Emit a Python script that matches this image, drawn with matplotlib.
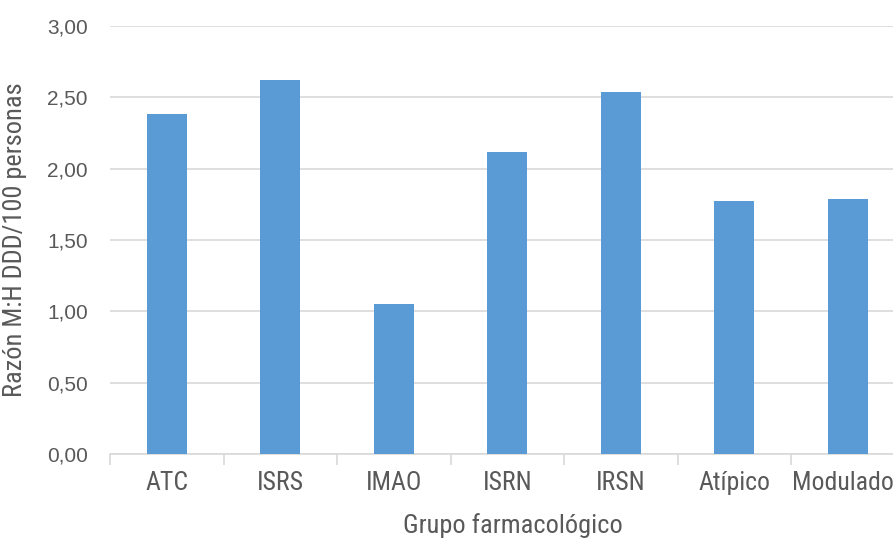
import matplotlib
matplotlib.use("Agg")
import matplotlib.pyplot as plt
import matplotlib.font_manager as fm
import matplotlib.transforms as mtransforms
from matplotlib.ticker import FuncFormatter, FixedLocator

categories = ["ATC", "ISRS", "IMAO", "ISRN", "IRSN", "Atípico", "Modulado"]
values = [2.38, 2.62, 1.05, 2.12, 2.54, 1.77, 1.79]
y_ticks = [0.0, 0.5, 1.0, 1.5, 2.0, 2.5, 3.0]

names = {f.name for f in fm.fontManager.ttflist}
narrow = None
for cand in ["Liberation Sans Narrow", "Roboto Condensed", "DejaVu Sans Condensed"]:
    if cand in names:
        narrow = cand
        break
if narrow is None:
    narrow = "Liberation Sans"

W, H = 893, 538
fig = plt.figure(figsize=(W / 100, H / 100), dpi=100)
ax = fig.add_axes([110 / W, 84 / H, 794.5 / W, 428 / H])

text_col = "#595959"
grid_col = "#D9D9D9"
bar_col = "#5B9BD5"

x = list(range(len(categories)))
ax.bar(x, values, width=0.352, color=bar_col, zorder=3)

ax.set_xlim(-0.5, len(categories) - 0.5)
ax.set_ylim(0, 3.0)
ax.set_yticks(y_ticks)
ax.yaxis.set_major_formatter(FuncFormatter(lambda v, p: f"{v:.2f}".replace(".", ",")))
ax.yaxis.grid(True, color=grid_col, linewidth=1.2, zorder=0)
ax.set_axisbelow(True)

for s in ["top", "right", "left"]:
    ax.spines[s].set_visible(False)
ax.spines["bottom"].set_color(grid_col)
ax.spines["bottom"].set_linewidth(1.2)

# category labels drawn as texts on the x axis transform; the last is nudged to fit
ax.set_xticks(x)
ax.set_xticklabels([])
ax.tick_params(axis="x", length=0)
ax.xaxis.set_minor_locator(FixedLocator([i - 0.5 for i in range(len(categories) + 1)]))
ax.tick_params(axis="x", which="minor", length=8, width=1.2, color=grid_col)
base_tr = ax.get_xaxis_transform()
for i, cat in enumerate(categories):
    dx = -5 if i == len(categories) - 1 else 0
    tr = mtransforms.offset_copy(base_tr, fig=fig, x=dx, y=-17, units="dots")
    ax.text(i, 0, cat, transform=tr, ha="center", va="top",
            fontfamily=narrow, fontsize=18.5, color=text_col)

ax.tick_params(axis="y", length=0, pad=16, labelsize=15, labelcolor=text_col)
for lab in ax.get_yticklabels():
    lab.set_fontfamily("Liberation Sans")

ax.set_ylabel("Razón M:H DDD/100 personas", fontfamily=narrow, fontsize=19,
              color=text_col, labelpad=14)
fig.text(513 / W, 1 - 533 / H, "Grupo farmacológico", ha="center", va="baseline",
         fontfamily=narrow, fontsize=19, color=text_col)

fig.savefig("out.png", dpi=100)
